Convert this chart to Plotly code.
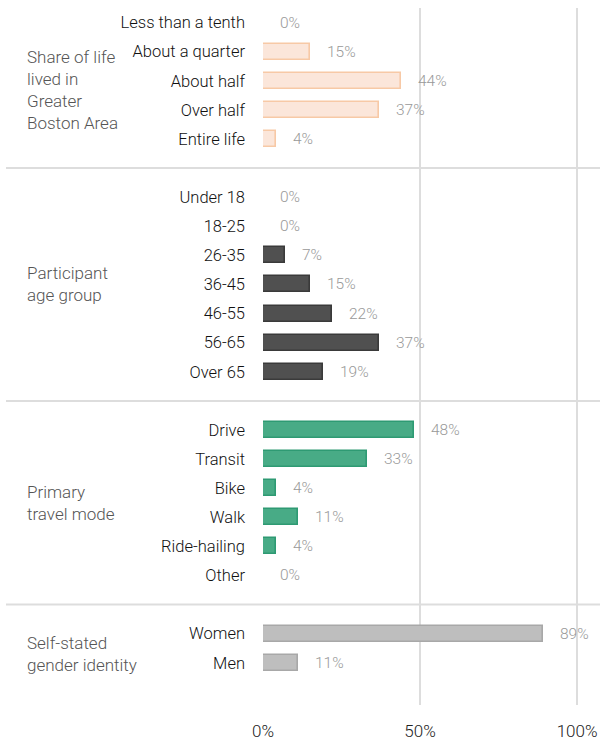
import plotly.graph_objects as go

# ---- data ----
group_names = [
    "Share of life<br>lived in<br>Greater<br>Boston Area",
    "Participant<br>age group",
    "Primary<br>travel mode",
    "Self-stated<br>gender identity",
]
life_cats = ["Less than a tenth", "About a quarter", "About half", "Over half", "Entire life"]
life_vals = [0, 15, 44, 37, 4]
age_cats = ["Under 18", "18-25", "26-35", "36-45", "46-55", "56-65", "Over 65"]
age_vals = [0, 0, 7, 15, 22, 37, 19]
mode_cats = ["Drive", "Transit", "Bike", "Walk", "Ride-hailing", "Other"]
mode_vals = [48, 33, 4, 11, 4, 0]
gender_cats = ["Women", "Men"]
gender_vals = [89, 11]
x_ticks = [0, 50, 100]
x_tick_labels = ["0%", "50%", "100%"]

groups = [(life_cats, life_vals), (age_cats, age_vals), (mode_cats, mode_vals), (gender_cats, gender_vals)]

# ---- styles ----
fills = ["#fbe6da", "#505050", "#48ab86", "#bebebe"]
borders = ["#f7c9a6", "#3a3a3a", "#2e9a73", "#a8a8a8"]
label_yshift = [-9, 0, 0, -6]
FONT = "Roboto, Liberation Sans, sans-serif"
GRID = "#dddddd"
PLOT_W = 337.0
LEFT = 263.0

fig = go.Figure()
tickvals, ticktext = [], []
annotations = []
shapes = []
pos = 0
group_rows = []
for gi, (cats, vals) in enumerate(groups):
    ys = list(range(pos, pos + len(cats)))
    group_rows.append(ys)
    fig.add_trace(go.Bar(
        x=vals, y=ys, orientation="h", width=0.55,
        marker=dict(color=fills[gi],
                    line=dict(color=borders[gi], width=[0 if v == 0 else 1.6 for v in vals])),
        hoverinfo="skip", showlegend=False,
    ))
    tickvals += ys
    ticktext += cats
    for v, y in zip(vals, ys):
        annotations.append(dict(x=v, y=y, xref="x", yref="y", text=f"{v}%",
                                showarrow=False, xanchor="left", yanchor="middle",
                                xshift=15, font=dict(family=FONT, size=15.5, color="#999999", weight=300)))
    annotations.append(dict(x=(25 - LEFT) / PLOT_W, xref="paper", y=(ys[0] + ys[-1]) / 2, yref="y",
                            text=group_names[gi], showarrow=False, xanchor="left",
                            yanchor="middle", align="left", yshift=label_yshift[gi],
                            font=dict(family=FONT, size=17, color="#555555", weight=300)))
    pos += len(cats) + 1

XMAX = 107.3  # axis extends to the right edge of the page
for a, b in zip(group_rows[:-1], group_rows[1:]):
    sep = (a[-1] + b[0]) / 2
    shapes.append(dict(type="line", xref="paper", yref="y", x0=(6 - LEFT) / PLOT_W, x1=1.0,
                       y0=sep, y1=sep, line=dict(color=GRID, width=2), layer="below"))

ymin = -0.5
ymax = group_rows[-1][-1] + 1.45

fig.update_layout(
    width=600, height=744,
    margin=dict(l=int(LEFT), r=0, t=8, b=39),
    paper_bgcolor="white", plot_bgcolor="white",
    font=dict(family=FONT),
    annotations=annotations, shapes=shapes,
    bargap=0,
    xaxis=dict(range=[0, XMAX], tickvals=x_ticks, ticktext=x_tick_labels,
               showgrid=True, gridcolor=GRID, gridwidth=2, zeroline=False,
               showline=False, ticks="", ticklabelstandoff=14,
               tickfont=dict(family=FONT, size=17, color="#222222", weight=300), fixedrange=True),
    yaxis=dict(range=[ymax, ymin], tickvals=tickvals, ticktext=ticktext,
               showgrid=False, zeroline=False, showline=False, ticks="",
               ticklabelstandoff=17,
               tickfont=dict(family=FONT, size=16.5, color="#111111", weight=300), fixedrange=True),
)

fig.write_html("out.html")
